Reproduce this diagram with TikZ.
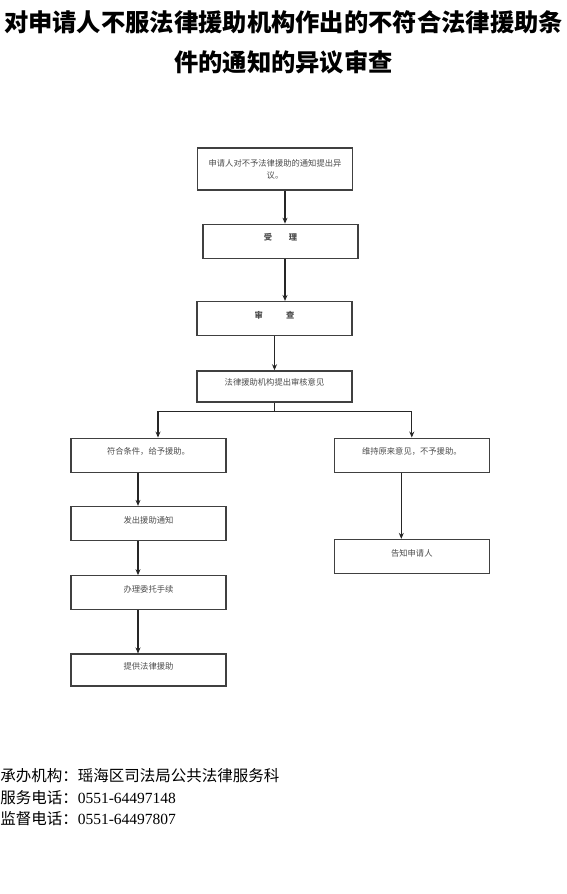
\documentclass[tikz,border=0pt]{standalone}
\usepackage{fontspec}
\setmainfont{Liberation Serif}
\newfontfamily\cjk{Noto Sans CJK SC}
\usetikzlibrary{positioning,arrows.meta}

\begin{document}
\begin{tikzpicture}[>={Stealth[length=6pt,width=5pt]},x=1pt,y=1pt,semithick,
  box/.style={draw=black!75,line width=1.3pt,minimum width=155pt,minimum height=34pt,
    inner sep=2pt,text=black!70,font=\cjk\fontsize{8.3}{12}\selectfont},
  onerow/.style={box,text height=8pt,text depth=9pt},
  flow/.style={->,line width=1.3pt,draw=black!85},
  heading/.style={inner sep=0pt,font=\cjk\bfseries\fontsize{24.3}{30}\selectfont},
  info/.style={anchor=west,inner sep=0pt,font=\cjk\fontsize{15.5}{18}\selectfont}]
  \useasboundingbox (0,0) rectangle (567,-894);
  % heading
  \node[heading] (title1) at (283.5,-22) {对申请人不服法律援助机构作出的不符合法律援助条};
  \node[heading] (title2) at (283.5,-62) {件的通知的异议审查};
  % main column
  \node[box,minimum height=42pt,text width=148pt,align=center] (b1) at (275,-169)
    {申请人对不予法律援助的通知提出异\\议。};
  \node[onerow,below=33pt of b1,xshift=5.5pt] (b2) {\bfseries 受\hspace{2em}理};
  \node[onerow,below=42pt of b2,xshift=-6pt] (b3) {\bfseries 审\hspace{2.8em}查};
  \node[onerow,minimum height=31pt,below=34pt of b3] (b4) {法律援助机构提出审核意见};
  % two branches
  \node[onerow,below=35pt of b4,xshift=-126pt] (b5) {符合条件，给予援助。};
  \node[onerow,right=107pt of b5] (b6) {维持原来意见，不予援助。};
  \node[onerow,below=33pt of b5] (b7) {发出援助通知};
  \node[onerow,below=34pt of b7] (b8) {办理委托手续};
  \node[onerow,minimum height=32pt,below=43pt of b8] (b9) {提供法律援助};
  \node[onerow,below=66pt of b6] (b10) {告知申请人};
  % connectors
  \coordinate (c1) at ([xshift=10pt]b1.south);
  \draw[flow] (c1) -- (c1 |- b2.north);
  \draw[flow] (c1 |- b2.south) -- (c1 |- b3.north);
  \draw[flow] (b3.south) -- (b4.north);
  \coordinate (fork) at ([yshift=-9pt]b4.south);
  \draw[line width=1.3pt,black!85] (b4.south) -- (fork);
  \draw[flow] (fork) -| ([xshift=9.5pt]b5.north);
  \draw[flow] (fork) -| (b6.north);
  \coordinate (c2) at ([xshift=-10.5pt]b5.south);
  \draw[flow] (c2) -- (c2 |- b7.north);
  \draw[flow] (c2 |- b7.south) -- (c2 |- b8.north);
  \draw[flow] (c2 |- b8.south) -- (c2 |- b9.north);
  \coordinate (c3) at ([xshift=-10.5pt]b6.south);
  \draw[flow] (c3) -- (c3 |- b10.north);
  % contact lines
  \node[info] (info1) at (0,-776) {承办机构：瑶海区司法局公共法律服务科};
  \node[info] (info2) at (0,-798) {服务电话：{\rmfamily 0551-64497148}};
  \node[info] (info3) at (0,-819) {监督电话：{\rmfamily 0551-64497807}};
\end{tikzpicture}
\end{document}
